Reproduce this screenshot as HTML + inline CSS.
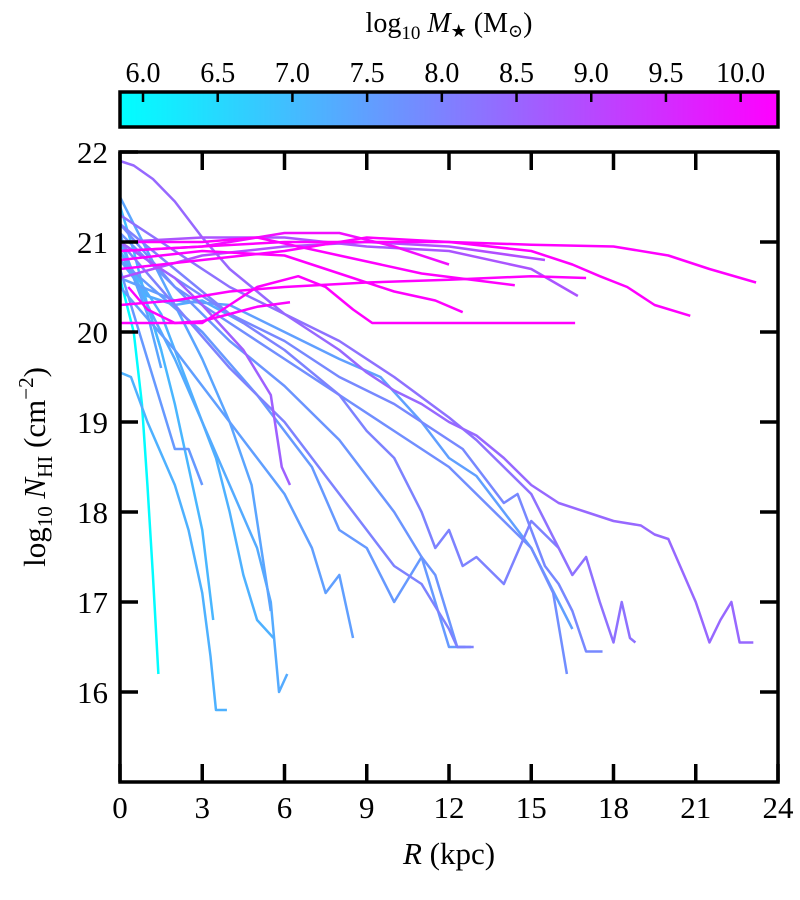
<!DOCTYPE html>
<html><head><meta charset="utf-8"><style>
body{margin:0;background:#fff;}
svg{display:block;font-family:"Liberation Serif","DejaVu Serif",serif;}
</style></head><body>
<svg id="chart" width="800" height="900" xmlns="http://www.w3.org/2000/svg">
<defs><linearGradient id="cg" x1="0" x2="1" y1="0" y2="0"><stop offset="0" stop-color="#00ffff"/><stop offset="1" stop-color="#ff00ff"/></linearGradient></defs>
<g>
<text x="449" y="32" text-anchor="middle" font-size="28">log<tspan font-size="19" dy="7">10</tspan><tspan dy="-7" font-style="italic"> M</tspan><tspan font-size="18" dy="5">★</tspan><tspan dy="-5"> (M</tspan><tspan font-size="18" dy="5">⊙</tspan><tspan dy="-5">)</tspan></text>
<rect x="120" y="92" width="658" height="35" fill="url(#cg)" stroke="#000" stroke-width="3.5"/>
<g id="cbticks"></g>
</g>
<g id="lines"></g>
<rect x="120" y="152" width="658" height="630" fill="none" stroke="#000" stroke-width="3.5"/>
<g id="axes"></g>
<text x="45" y="467" transform="rotate(-90 45 467)" text-anchor="middle" font-size="31">log<tspan font-size="21" dy="7">10</tspan><tspan dy="-7" font-style="italic"> N</tspan><tspan font-size="21" dy="7">HI</tspan><tspan dy="-7"> (cm</tspan><tspan font-size="21" dy="-12">−2</tspan><tspan dy="12">)</tspan></text>
<text x="449" y="864" text-anchor="middle" font-size="31"><tspan font-style="italic">R</tspan> (kpc)</text>
</svg>
<script>
const xTicks=[0,3,6,9,12,15,18,21,24];
const yTicks=[16,17,18,19,20,21,22];
const cbTicks=[6.0,6.5,7.0,7.5,8.0,8.5,9.0,9.5,10.0];
const cbMin=5.846, cbMax=10.25;
const masses=[10.25,10.25,10.25,10.2,10.25,10.25,10.25,10.0,8.8,8.9,8.45,8.3,7.9,7.8,8.0,7.6,7.5,7.3,7.2,7.1,5.9,7.2,7.4,7.6,7.3,7.0,8.6,7.5,7.7,8.0,7.4];
const profiles=[
[[0,20.9],[3,20.95],[6,21.0],[9,21.0],[12,21.0],[15,20.97],[18,20.95],[20,20.85],[21.5,20.7],[23.2,20.55]],
[[0,20.7],[3,20.8],[6,20.9],[9,21.05],[12,21.0],[15,20.9],[16.5,20.75],[17.5,20.62],[18.5,20.5],[19.5,20.3],[20.8,20.18]],
[[0,20.1],[3,20.1],[4,20.3],[5,20.5],[6.5,20.62],[7.5,20.5],[8.5,20.25],[9.2,20.1],[16.6,20.1]],
[[0.3,20.5],[1,20.25],[2,20.1],[3,20.12],[4,20.2],[5,20.28],[6.2,20.33]],
[[0,20.3],[2,20.35],[4,20.45],[6,20.5],[9,20.55],[12,20.58],[15,20.62],[17,20.6]],
[[0,20.8],[3,20.9],[6,20.85],[8,20.65],[10,20.45],[11.5,20.35],[12.5,20.22]],
[[0,21.0],[3,21.0],[5,21.05],[8,20.85],[11,20.65],[14.4,20.52]],
[[0,20.9],[3,20.95],[6,21.1],[8,21.1],[10,20.95],[12,20.75]],
[[0,21.0],[3,21.05],[6,21.05],[9,20.95],[12,20.9],[15,20.7],[16.7,20.4]],
[[0,20.6],[3,20.85],[6,20.95],[9,21.0],[12,20.95],[15.5,20.8]],
[[0,21.9],[0.5,21.85],[1.2,21.7],[2,21.45],[3,21.05],[4,20.7],[5,20.45],[6,20.2],[7,20.0],[8,19.8],[9,19.55],[10,19.35],[11,19.2],[12,19.0],[13,18.85],[14,18.6],[15,18.3],[16,18.1],[17,18.0],[18,17.9],[19,17.85],[19.5,17.75],[20,17.7],[20.5,17.35],[21,17.0],[21.5,16.55],[21.9,16.8],[22.3,17.0],[22.6,16.55],[23.1,16.55]],
[[0,21.3],[2,20.9],[4,20.5],[6,20.2],[8,19.9],[10,19.5],[12,19.05],[13,18.8],[14,18.5],[15,18.2],[15.5,17.9],[16,17.6],[16.5,17.3],[17,17.5],[17.5,17.0],[18,16.55],[18.3,17.0],[18.6,16.6],[18.8,16.55]],
[[0,21.0],[2,20.6],[4,20.2],[6,19.9],[8,19.5],[10,19.2],[11.5,18.9],[12.5,18.7],[13.5,18.3],[14,18.1],[14.5,18.2],[15,17.8],[15.5,17.4],[16,17.2],[16.5,16.9],[17,16.45],[17.6,16.45]],
[[0,21.2],[2,20.5],[4,20.1],[6,19.7],[8,19.3],[10,18.9],[12,18.5],[13,18.2],[14,17.9],[15,17.6],[15.8,17.1],[16.3,16.2]],
[[0,21.0],[2,20.3],[4,19.6],[6,19.0],[7,18.6],[8,18.2],[9,17.8],[10,17.4],[11,17.2],[12,16.7],[12.3,16.5],[12.9,16.5]],
[[0,20.8],[3,20.0],[5,19.3],[7,18.5],[8,17.8],[9,17.6],[10,17.0],[11,17.5],[12,16.5],[12.8,16.5]],
[[0,20.5],[2,19.8],[4,19.0],[5,18.6],[6,18.2],[7,17.6],[7.5,17.1],[8,17.3],[8.5,16.6]],
[[0,20.9],[1,20.3],[2,19.7],[3,19.0],[4,18.3],[5,17.6],[5.5,17.0],[5.8,16.0],[6.1,16.2]],
[[0,19.55],[0.4,19.5],[1,19.0],[2,18.3],[2.5,17.8],[3.0,17.1],[3.3,16.4],[3.5,15.8],[3.9,15.8]],
[[0,21.0],[1,20.3],[1.5,19.8],[2,19.2],[2.5,18.5],[3.0,17.8],[3.4,16.8]],
[[0,20.6],[0.5,20.0],[0.8,19.2],[1.0,18.3],[1.2,17.3],[1.4,16.2]],
[[0,20.9],[1.5,20.2],[2.5,19.4],[3.5,18.6],[4,18.0],[4.5,17.3],[5,16.8],[5.6,16.6]],
[[0,21.1],[0.5,20.6],[1,20.2],[1.5,19.6]],
[[0,20.7],[0.8,19.9],[1.5,19.2],[2,18.7],[2.5,18.7],[3,18.3]],
[[0,20.8],[1,20.4],[2,20.3],[3,20.35],[4.5,20.1]],
[[0,21.4],[0.5,20.9],[1,20.3],[1.5,19.8]],
[[0,21.0],[2,20.6],[3,20.3],[4.5,19.8],[5.5,19.3],[5.9,18.5],[6.2,18.3]],
[[0,20.6],[2,20.35],[4,20.3],[6,20.0],[8,19.7],[9.5,19.5],[11,19.0],[12,18.6],[13,18.4],[14,18.0],[15,17.6],[16,17.0],[16.5,16.7]],
[[0,21.1],[2,20.5],[4,19.9],[6,19.4],[8,18.8],[9,18.4],[10,18.0],[11,17.5],[11.5,17.3],[12.3,16.5],[12.6,16.5]],
[[0,21.2],[2,20.7],[4,20.2],[6,19.8],[8,19.3],[9,18.9],[10,18.6],[11,18.0],[11.5,17.6],[12,17.8],[12.5,17.4],[13,17.5],[14,17.2],[15,17.9],[16,17.6]],
[[0,21.5],[1,20.9],[2,20.3],[3,19.7],[4,19.0],[4.8,18.3],[5.2,17.5],[5.5,16.9]]
];
const x=v=>120+v*658/24, y=v=>152+(22-v)*90;
const cx=v=>120+(v-cbMin)/(cbMax-cbMin)*658;
function col(m){const t=Math.max(0,Math.min(1,(m-cbMin)/(cbMax-cbMin)));return `rgb(${Math.round(255*t)},${Math.round(255*(1-t))},255)`;}
const NS='http://www.w3.org/2000/svg';
const lg=document.getElementById('lines');
const order=profiles.map((p,i)=>i).sort((a,b)=>masses[a]-masses[b]);
order.forEach(i=>{
 const p=document.createElementNS(NS,'polyline');
 p.setAttribute('points',profiles[i].map(d=>x(d[0])+','+y(d[1])).join(' '));
 p.setAttribute('fill','none');p.setAttribute('stroke',col(masses[i]));p.setAttribute('stroke-width','2.5');
 p.setAttribute('stroke-linejoin','round');
 
 
 lg.appendChild(p);
});
const ax=document.getElementById('axes');
function add(tag,attrs,txt){const e=document.createElementNS(NS,tag);for(const k in attrs)e.setAttribute(k,attrs[k]);if(txt!==undefined)e.textContent=txt;return e;}
xTicks.forEach(v=>{
 const X=x(v);
 const t1=add('line',{x1:X,x2:X,y1:782,y2:764,stroke:'#000','stroke-width':3.5});
 
 
 ax.appendChild(t1);
 const t2=add('line',{x1:X,x2:X,y1:152,y2:170,stroke:'#000','stroke-width':3.5});
 
 
 ax.appendChild(t2);
 const l=add('text',{x:X,y:818,'text-anchor':'middle','font-size':31},String(v));
 
 
 ax.appendChild(l);
});
yTicks.forEach(v=>{
 const Y=y(v);
 const t1=add('line',{x1:120,x2:138,y1:Y,y2:Y,stroke:'#000','stroke-width':3.5});
 
 
 ax.appendChild(t1);
 const t2=add('line',{x1:760,x2:778,y1:Y,y2:Y,stroke:'#000','stroke-width':3.5});
 
 
 ax.appendChild(t2);
 const l=add('text',{x:108,y:Y+11,'text-anchor':'end','font-size':31},String(v));
 
 
 ax.appendChild(l);
});
const cb=document.getElementById('cbticks');
cbTicks.forEach(v=>{
 const X=cx(v);
 const t=add('line',{x1:X,x2:X,y1:92,y2:102,stroke:'#000','stroke-width':2.5});
 
 
 cb.appendChild(t);
 const l=add('text',{x:X,y:82,'text-anchor':'middle','font-size':28},v.toFixed(1));
 
 
 cb.appendChild(l);
});
</script>
</body></html>
